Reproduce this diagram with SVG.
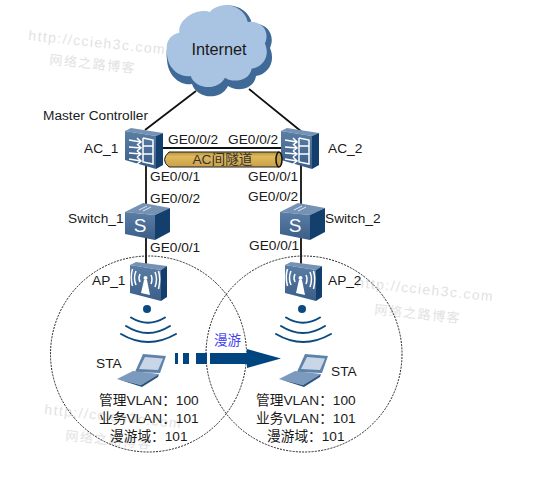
<svg xmlns="http://www.w3.org/2000/svg" width="560" height="490" viewBox="0 0 560 490">
<style>
text{font-family:"Liberation Sans","Noto Sans CJK SC",sans-serif;font-size:13.700px;fill:#1a1a1a}
.wm{fill:#e2e2e2;font-size:14px;letter-spacing:1.420px}
.wc{fill:#e2e2e2;font-size:13px;letter-spacing:1.500px}
.link{stroke:#111;stroke-width:1.800;fill:none}
.cell{fill:none;stroke:#222;stroke-width:1;stroke-dasharray:2 1.200}
.wave{fill:none;stroke:#0b4a80;stroke-width:2;stroke-linecap:round}
.top{fill:#7592b4}.side{fill:#123f6c}
.ico{fill:none;stroke:#fff;stroke-width:1.500}
</style>
<defs>
<linearGradient id="g" x1="0" y1="0" x2="0" y2="1"><stop offset="0" stop-color="#5b7ea5"/><stop offset="1" stop-color="#3a5e88"/></linearGradient>
<linearGradient id="tube" x1="0" y1="0" x2="0" y2="1"><stop offset="0" stop-color="#b4923c"/><stop offset=".3" stop-color="#e0b95a"/><stop offset="1" stop-color="#c9a04a"/></linearGradient>
<path id="cloud" d="M167 60 C165 46 170 38 180 36 C178 20 200 8 212 13 C222 0 248 4 252 24 C266 22 276 34 270 48 C276 62 268 74 256 76 C254 90 236 92 228 86 C220 102 196 98 192 84 C180 86 168 76 167 60Z"/>
<g id="ac">
<path class="top" d="M0 3 L6 0 L38 5 L31 8Z"/>
<path fill="url(#g)" d="M0 3 L31 8 V41 L0 32Z"/>
<path class="side" d="M31 8 L38 5 V37 L31 41Z"/>
<path class="ico" d="M4 12 L16 14 M4 19 L16 20 M4 25 L16 26 M4 31 L16 33 M12 10 L16 14 L12 17 M12 16 L16 20 L12 23 M12 23 L16 26 L12 29 M12 29 L16 33 L12 36"/>
<path class="ico" stroke-width="1.800" d="M18 10 L28 12 V36 L18 34 V10 M18 18 H28 M18 26 H28"/>
</g>
<g id="sw">
<path class="top" d="M0 9 L18 0 L45 5 L30 12Z"/>
<path fill="url(#g)" d="M0 9 L30 12 V37 L0 31Z"/>
<path class="side" d="M30 12 L45 5 V29 L30 37Z"/>
<path d="M14 7 L22 3 M18 8 L26 4" stroke="#dfe7f0" stroke-width="1" fill="none"/>
<text x="15" y="29" text-anchor="middle" style="font-size:19px;fill:#fff">S</text>
</g>
<g id="ap">
<path class="top" d="M0 3 L6 0 L37 4 L31 8Z"/>
<path fill="url(#g)" d="M0 3 L31 8 V39 L0 31Z"/>
<path class="side" d="M31 8 L37 4 V35 L31 39Z"/>
<path fill="#fff" d="M11 31 L14 18 L17 18 L20 33Z"/>
<circle cx="15.500" cy="16" r="2" fill="#fff"/>
<path class="ico" d="M10 12 Q8 16 10 20 M21 13 Q23 17 21 22 M6 9 Q3 16 6 23 M25 10 Q28 17 25 25 M2.500 7 Q0 15 2.500 24 M28.500 9 Q31 17 28.500 27"/>
</g>
<g id="wifi">
<circle cx="26" cy="4" r="4" fill="#0b4a80"/>
<path class="wave" d="M10 12.500 Q27 23 44 12.500 M5 21 Q27 35 49 21 M0 29 Q27 45 55 29"/>
</g>
<g id="laptop">
<path fill="#5f82a8" d="M26 0 L49 2 L43 19 L18 18Z"/>
<path fill="#c8d6e8" d="M28 3 L46 4.500 L41 16 L22 15Z"/>
<path fill="#7b9abd" d="M0 25 L16 17 L42 20 L24 31Z"/>
<path fill="#2d5580" d="M0 25 L24 31 L42 20 L41 23 L25 33Z"/>
</g>
</defs>
<text class="wm" x="28" y="40" transform="rotate(6 28 40)">http://ccieh3c.com</text>
<text class="wc" x="49" y="64" transform="rotate(6 49 64)">网络之路博客</text>
<text class="wm" x="356" y="287" transform="rotate(6 356 287)">http://ccieh3c.com</text>
<text class="wc" x="374" y="314" transform="rotate(6 374 314)">网络之路博客</text>
<text class="wm" x="44" y="414" transform="rotate(6 44 414)">http://ccieh3c.com</text>
<text class="wc" x="65" y="440" transform="rotate(6 65 440)">网络之路博客</text>
<g id="connectors">
<path class="link" d="M196 91 L145 130 M249 89 L302 132 M160 148 H285 M146 165 V207 M301 165 V207 M146 235 V264 M301 235 V264"/>
</g>
<circle class="cell" cx="148.500" cy="354" r="98"/>
<circle class="cell" cx="304" cy="354" r="98"/>
<g id="internet">
<use href="#cloud" fill="#3f6a97"/>
<use href="#cloud" fill="#a9c4e3" transform="translate(8.350 .3) scale(.95 .9)"/>
<text x="219" y="55" text-anchor="middle" style="font-size:16.300px">Internet</text>
</g>
<g id="ac1"><use href="#ac" x="125" y="128"/></g>
<g id="ac2"><use href="#ac" x="281" y="128"/></g>
<g id="tunnel">
<path fill="url(#tube)" stroke="#222" d="M169 152 H279 V167 H169 Q160 160 169 152Z"/>
<ellipse cx="279" cy="159.500" rx="3" ry="7.500" fill="#c9a04a" stroke="#111" stroke-width="1.500"/>
<text x="222.500" y="164" text-anchor="middle" style="font-size:13.700px;fill:#333">AC间隧道</text>
</g>
<g id="sw1"><use href="#sw" x="125" y="203"/></g>
<g id="sw2"><use href="#sw" x="280" y="203"/></g>
<g id="ap1"><use href="#ap" x="130" y="262"/></g>
<g id="ap2"><use href="#ap" x="285" y="262"/></g>
<use href="#wifi" x="121" y="305"/>
<use href="#wifi" x="276" y="305"/>
<g id="sta1"><use href="#laptop" x="117" y="354"/></g>
<g id="sta2"><use href="#laptop" x="279" y="354"/></g>
<g id="roam">
<path fill="#00457f" d="M175 353 H178 V364 H175Z M183 353 H189 V364 H183Z M196 353 H207 V364 H196Z M210 353 H247 V349 L281 358.500 L247 368 V364 H210Z"/>
<text x="227.500" y="345" text-anchor="middle" style="font-size:13.500px;fill:#4444ee">漫游</text>
</g>
<text x="43" y="120">Master Controller</text>
<text x="84" y="153">AC_1</text>
<text x="328" y="153">AC_2</text>
<text x="168" y="144">GE0/0/2</text>
<text x="228" y="144">GE0/0/2</text>
<text x="150" y="181">GE0/0/1</text>
<text x="248" y="181">GE0/0/1</text>
<text x="150" y="203">GE0/0/2</text>
<text x="248" y="201">GE0/0/2</text>
<text x="68" y="223">Switch_1</text>
<text x="325" y="223">Switch_2</text>
<text x="150" y="252">GE0/0/1</text>
<text x="249" y="250">GE0/0/1</text>
<text x="92" y="285">AP_1</text>
<text x="328" y="285">AP_2</text>
<text x="96" y="368">STA</text>
<text x="331" y="376">STA</text>
<text x="99" y="405">管理VLAN：100</text>
<text x="99" y="423">业务VLAN：101</text>
<text x="110" y="441">漫游域：101</text>
<text x="256" y="405">管理VLAN：100</text>
<text x="256" y="423">业务VLAN：101</text>
<text x="267" y="441">漫游域：101</text>
</svg>
